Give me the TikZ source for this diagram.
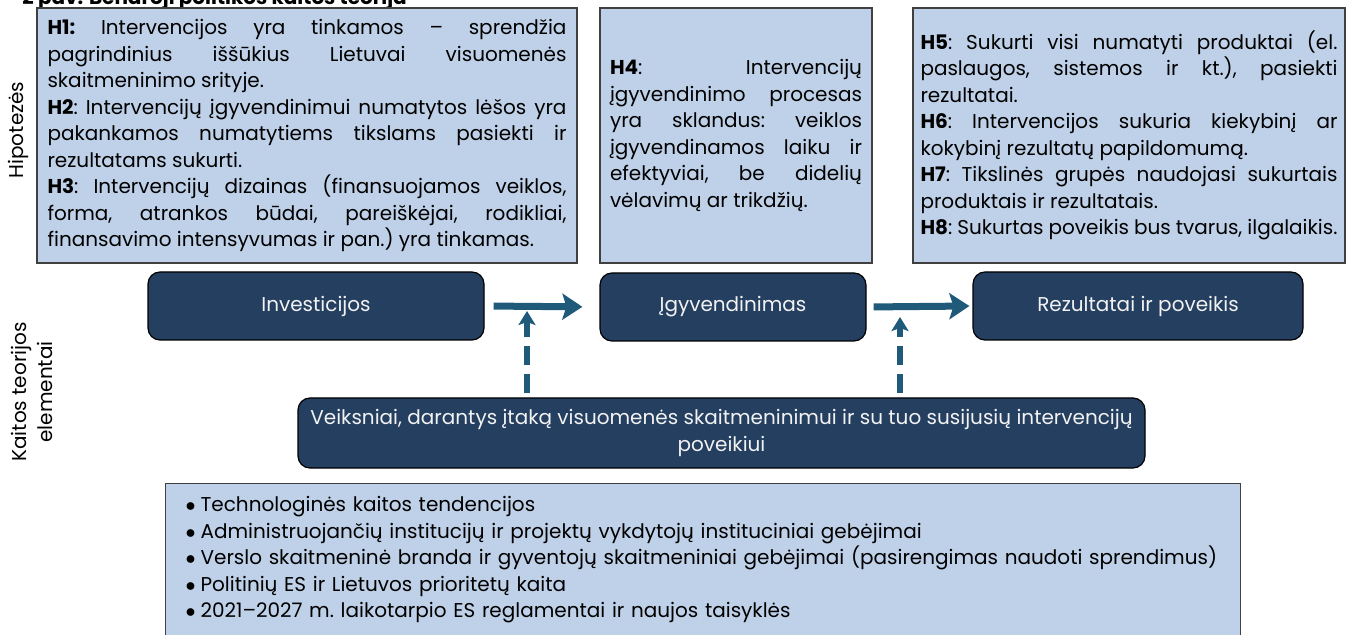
\documentclass[tikz,border=0pt]{standalone}
\usepackage{fontspec}
\setmainfont{Poppins}
\usetikzlibrary{arrows.meta}
\definecolor{hypfill}{HTML}{BFD1E8}
\definecolor{elemfill}{HTML}{243F60}
\definecolor{flowcol}{HTML}{205A7A}
\setlength{\parindent}{0pt}
\hyphenpenalty=10000
\exhyphenpenalty=10000
\tolerance=10000
\hbadness=10000
\newcommand{\factitem}{\hspace*{6.25pt}\makebox[7.5pt][l]{$\bullet$}}

\begin{document}
\begin{tikzpicture}[x=0.5pt, y=-0.5pt, >=Latex,
	font=\fontsize{10}{13.25}\selectfont\frenchspacing,
	hypbox/.style={draw=black!75, line width=0.6pt, fill=hypfill, inner sep=0pt, align=justify},
	elembox/.style={draw=black, line width=0.6pt, fill=elemfill, text=white!95!black, rounded corners=6pt, inner sep=0pt, align=center},
	flow/.style={->, draw=flowcol, line width=3.5pt, >={Stealth[length=10pt, width=13pt, inset=2pt]}},
	influence/.style={->, draw=flowcol, line width=2.7pt, dash pattern=on 9.5pt off 4.5pt, >={Stealth[length=7pt, width=8.5pt, inset=1.5pt]}},
	sidelabel/.style={rotate=90, align=center}]
	
	\useasboundingbox (0,0) rectangle (1347,635);
	\clip (0,0) rectangle (1347,635);
	
	% title (cut off at the top)
	\node[font=\fontsize{10}{12}\selectfont\bfseries, anchor=base west, inner sep=0pt] (title) at (22,4.5) {2 pav. Bendroji politikos kaitos teorija};
	
	%========================
	% Top row: hypotheses
	%========================
	\node[sidelabel] (hiplab) at (18,130) {Hipotezės};
	
	\node[hypbox, minimum width=270pt, minimum height=127.5pt, text width=259.5pt] (h13) at (307,135.5)
	{\textbf{H1:} Intervencijos yra tinkamos – sprendžia\linebreak pagrindinius iššūkius Lietuvai visuomenės\linebreak skaitmeninimo srityje.\par
		\textbf{H2}: Intervencijų įgyvendinimui numatytos lėšos yra\linebreak pakankamos numatytiems tikslams pasiekti ir\linebreak rezultatams sukurti.\par
		\textbf{H3}: Intervencijų dizainas (finansuojamos veiklos,\linebreak forma, atrankos būdai, pareiškėjai, rodikliai,\linebreak finansavimo intensyvumas ir pan.) yra tinkamas.};
	
	\node[hypbox, minimum width=136pt, minimum height=127.5pt, text width=126pt] (h4) at (736,135.5)
	{\textbf{H4}: Intervencijų\linebreak įgyvendinimo procesas\linebreak yra sklandus: veiklos\linebreak įgyvendinamos laiku ir\linebreak efektyviai, be didelių\linebreak vėlavimų ar trikdžių.};
	
	\node[hypbox, minimum width=216pt, minimum height=127.5pt, text width=208.5pt] (h58) at (1129,135.5)
	{\textbf{H5}: Sukurti visi numatyti produktai (el.\linebreak paslaugos, sistemos ir kt.), pasiekti\linebreak rezultatai.\par
		\textbf{H6}: Intervencijos sukuria kiekybinį ar\linebreak kokybinį rezultatų papildomumą.\par
		\textbf{H7}: Tikslinės grupės naudojasi sukurtais\linebreak produktais ir rezultatais.\par
		\textbf{H8}: Sukurtas poveikis bus tvarus, ilgalaikis.};
	
	%========================
	% Middle: elements of the theory of change
	%========================
	\node[sidelabel] (elemlab) at (32,392) {Kaitos teorijos\\elementai};
	
	\node[elembox, minimum width=168pt, minimum height=34pt] (invest) at (316,306) {Investicijos};
	\node[elembox, minimum width=133pt, minimum height=34pt] (impl) at (733,307) {Įgyvendinimas};
	\node[elembox, minimum width=165pt, minimum height=34pt] (result) at (1138,306) {Rezultatai ir poveikis};
	\node[elembox, minimum width=423.5pt, minimum height=35pt] (factors) at (721.5,433)
	{Veiksniai, darantys įtaką visuomenės skaitmeninimui ir su tuo susijusių intervencijų\\poveikiui};
	
	% main flow
	\draw[flow, shorten <=4.5pt, shorten >=8.5pt] (invest.east) -- (impl.west);
	\draw[flow, shorten <=3.5pt, shorten >=1.5pt] (impl.east) -- (result.west);
	
	% influence of the factors
	\coordinate (tipA) at (527,311);
	\coordinate (tipB) at (900,317);
	\draw[influence] ([yshift=2pt]factors.north -| tipA) -- (tipA);
	\draw[influence] ([yshift=2pt]factors.north -| tipB) -- (tipB);
	
	%========================
	% Bottom: list of factors
	%========================
	\node[hypbox, anchor=north west, minimum width=537.5pt, minimum height=76pt, text width=530pt, align=left] (factlist) at (165,483)
	{\factitem Technologinės kaitos tendencijos\\
		\factitem Administruojančių institucijų ir projektų vykdytojų instituciniai gebėjimai\\
		\factitem Verslo skaitmeninė branda ir gyventojų skaitmeniniai gebėjimai (pasirengimas naudoti sprendimus)\\
		\factitem Politinių ES ir Lietuvos prioritetų kaita\\
		\factitem 2021–2027 m. laikotarpio ES reglamentai ir naujos taisyklės};
	
\end{tikzpicture}
\end{document}
